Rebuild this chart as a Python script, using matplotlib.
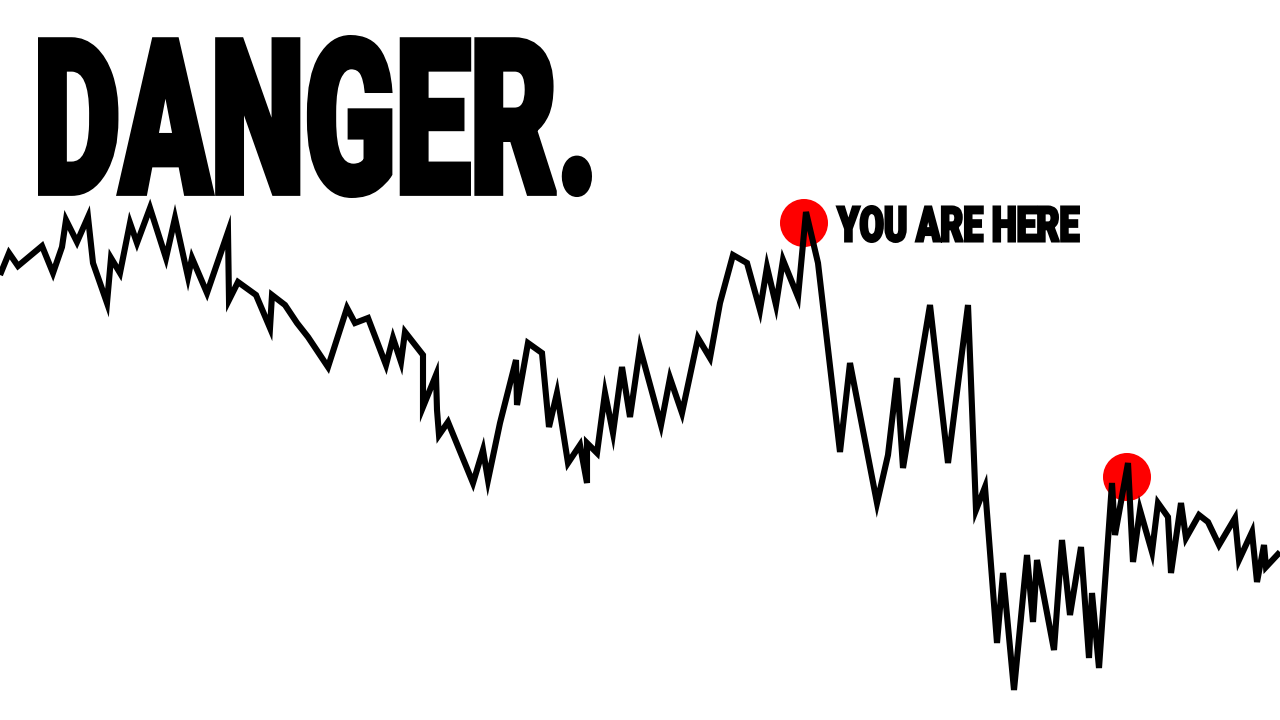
import matplotlib
matplotlib.use("Agg")
import matplotlib.pyplot as plt
from matplotlib import patheffects
from matplotlib.font_manager import FontProperties
from matplotlib.patches import Circle
from matplotlib.textpath import TextPath
from matplotlib.transforms import Affine2D

W, H, DPI = 1280, 720, 100

# price line (x = time, y = screen row, lower row = higher price)
t = [0, 9, 18, 42, 53, 62, 66, 77, 88, 93, 107, 111, 120, 130, 137, 150, 166, 175,
     188, 192, 207, 228, 229, 238, 256, 270, 272, 285, 297, 308, 328, 347, 355, 368,
     386, 393, 401, 405, 423, 423, 436, 437, 439, 448, 473, 483, 488, 500, 516, 517,
     528, 542, 549, 557, 568, 580, 587, 587, 597, 605, 613, 622, 630, 640, 661, 670,
     682, 698, 710, 720, 733, 747, 760, 767, 776, 783, 798, 806, 818, 840, 850, 877,
     888, 897, 903, 930, 948, 968, 976, 985, 997, 1003, 1014, 1027, 1033, 1037, 1054,
     1062, 1070, 1081, 1089, 1092, 1099, 1112, 1115, 1128, 1133, 1140, 1152, 1158,
     1168, 1171, 1181, 1186, 1199, 1208, 1219, 1235, 1239, 1252, 1257, 1264, 1266, 1280]
y_vals = [275, 253, 266, 246, 273, 247, 220, 242, 217, 263, 303, 258, 273, 223, 243,
          208, 258, 218, 277, 258, 293, 232, 300, 282, 295, 328, 295, 305, 323, 337,
          367, 308, 323, 318, 365, 338, 362, 332, 355, 407, 375, 410, 435, 422, 483,
          450, 480, 423, 360, 405, 343, 353, 427, 393, 463, 445, 483, 443, 453, 393,
          433, 367, 417, 348, 425, 378, 413, 338, 358, 303, 255, 263, 310, 267, 305,
          260, 297, 212, 263, 452, 363, 503, 455, 378, 468, 305, 463, 305, 510, 487,
          643, 573, 690, 555, 622, 560, 650, 540, 615, 547, 658, 593, 668, 483, 535,
          463, 562, 510, 552, 503, 517, 573, 503, 538, 515, 522, 545, 518, 560, 532,
          582, 545, 567, 552]

# red dots
dot_t = [804, 1127]
dot_y = [223, 477]

title = "DANGER."
label = "YOU ARE HERE"


class Squeeze(patheffects.AbstractPathEffect):
    """Draw the glyphs scaled by sx/sy (no Impact font here), optionally fattened."""

    def __init__(self, sx, sy, lw=0.0):
        super().__init__()
        self.sx, self.sy, self.lw = sx, sy, lw

    def draw_path(self, renderer, gc, tpath, affine, rgbFace=None):
        tr = Affine2D().scale(self.sx, self.sy) + affine
        gc0 = renderer.new_gc()
        gc0.copy_properties(gc)
        gc0.set_linewidth(self.lw)
        if self.lw:
            gc0.set_foreground(rgbFace)
            gc0.set_joinstyle("miter")
        renderer.draw_path(gc0, tpath, tr, rgbFace)
        gc0.restore()


def fit_text(ax, s, x0, x1, top, bottom, fp, lw_px=0.0):
    # pick the size that fits the width, then stretch vertically to the target height
    pad = lw_px / 2
    ext = TextPath((0, 0), s, size=100, prop=fp).get_extents()
    size_px = 100 * (x1 - x0 - 2 * pad) / ext.width
    ext = TextPath((0, 0), s, size=size_px, prop=fp).get_extents()
    sx = (x1 - x0 - 2 * pad) / ext.width
    sy = (bottom - top - 2 * pad) / ext.height
    ax_x = x0 + pad - ext.x0 * sx
    ax_y = bottom - pad + ext.y0 * sy
    prop = fp.copy()
    prop.set_size(size_px * 72 / DPI)
    ax.text(ax_x, ax_y, s, fontproperties=prop, color="black", ha="left",
            va="baseline", zorder=5,
            path_effects=[Squeeze(sx, sy, lw_px * 72 / DPI)])


fig = plt.figure(figsize=(W / DPI, H / DPI), dpi=DPI)
fig.patch.set_facecolor("white")
ax = fig.add_axes([0, 0, 1, 1])
ax.set_xlim(0, W)
ax.set_ylim(H, 0)
ax.axis("off")

for x, y in zip(dot_t, dot_y):
    ax.add_patch(Circle((x, y), 24, color="#fe0000", zorder=2, lw=0))

ax.plot(t, y_vals, color="black", lw=4.4, solid_joinstyle="miter",
        solid_capstyle="butt", zorder=3)

fp = FontProperties(family=["Roboto", "DejaVu Sans"], weight="black")
fit_text(ax, title, 38, 592, 35, 198, fp, lw_px=6)
fit_text(ax, label, 836, 1080, 205, 243, fp, lw_px=2.5)

fig.savefig("out.png", dpi=DPI, facecolor="white")
